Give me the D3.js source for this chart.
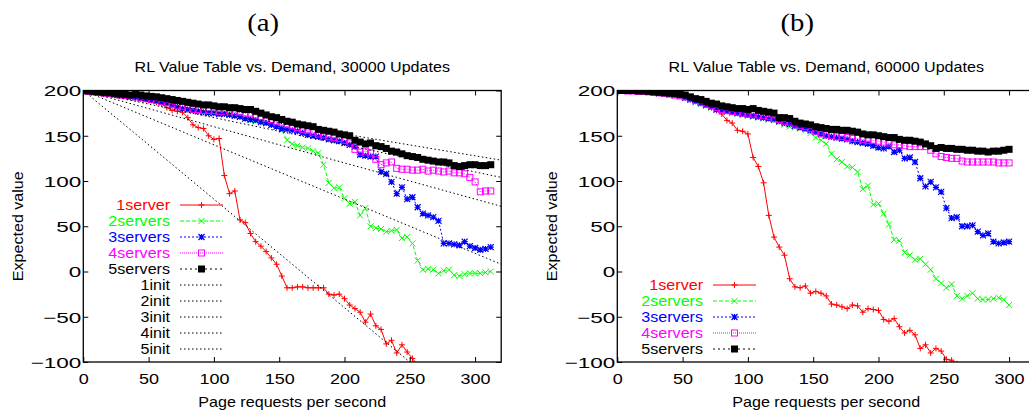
<!DOCTYPE html>
<html><head><meta charset="utf-8">
<script src="https://cdn.jsdelivr.net/npm/d3@7"></script>
<style>body{margin:0;background:#fff}svg{display:block}</style>
</head><body><svg id="c" width="1029" height="410"></svg>
<script>
// ---------- data ----------
const xTicks = [0, 50, 100, 150, 200, 250, 300];
const yTicks = [-100, -50, 0, 50, 100, 150, 200];
const xDomain = [0, 320];
const yDomain = [-100, 200];
const seriesNames = ["1server", "2servers", "3servers", "4servers", "5servers"];
const initNames = ["1init", "2init", "3init", "4init", "5init"];
const titlesTop = ["(a)", "(b)"];
const titlesSub = ["RL Value Table vs. Demand, 30000 Updates", "RL Value Table vs. Demand, 60000 Updates"];
const xLabel = "Page requests per second";
const yLabel = "Expected value";

// sample positions (page requests per second)
const xA = [0,4,8,12,16,20,24,28,32,36,40,44,48,52,56,60,64,68,72,76,80,84,88,92,96,100,104,108,112,116,
  120,124,128,132,136,140,144,148,152,156,160,164,168,172,176,180,184,188,192,196,200,204,208,212,216,
  220,224,228,232,236,240,244,248,252,256,260,264,268,272,276,280,284,288,292,296,300,304,308,312];
const xB = [0,4,8,12,16,20,24,28,32,36,40,44,48,52,56,60,64,68,72,76,80,84,88,92,96,100,104,108,112,116,
  120,124,128,132,136,140,144,148,152,156,160,164,168,172,176,180,184,188,192,196,200,204,208,212,216,
  220,224,228,232,236,240,244,248,252,256,260,264,268,272,276,280,284,288,292,296,300];

// panel (a): 30000 updates
const a1server = [200,199,198,197.5,197,196,195,194.5,194,193,
  192,191,190,189,187,185,181,178,177,176,
  170,162,159,158,150,146,147,106,86,89,
  57,54,42,33,28,22,15,8,-5,-18,
  -18,-17,-17,-18,-18,-18,-18,-25,-26,-25,
  -30,-37,-41,-45,-56,-47,-60,-64,-80,-76,
  -90,-81,-89,-96,-104,-112];
const a2servers = [200,199,198,197.5,197,196,195.5,194.5,194,193,
  192,191,190,189,188,187,185.5,184,182,180,
  179,178,177,176.5,176,176,175.5,175,174,172,
  171,169,167,166,165,164,162,160,156,145,
  141,139,137,136,133,131,118,98,92,93,
  81,75,77,62,70,50,48,47,44,45,
  46,37,38,31,12,2,3,2,-2,1,
  2,-4,-5,-3,-2,-2,-2,-1,0];
const a3servers = [200,199,198,197.5,197,196,195.5,195,194,193,
  192.5,191.5,190.5,189.5,188.5,187,186,184,182,180,
  179,178,177,176,175,175,174,174,173,172,
  171,169,168,167,165,164,162,160,158,157,
  156,155,153,151,150,149,148,146,145,144,
  142,140,138,129,128,127,127,110,108,99,
  86,93,80,82,71,64,62,60,56,31,
  31,30,29,33,28,26,24,25,27];
const a4servers = [200,199,198.5,198,197,196.5,196,195,194.5,194,
  193,192,191,190,189,188,187,185,183,182,
  180,179,179,178,178,178,177,177,177,176,
  176,175,175,173,171,169,168,166,165,163,
  161,159,157,156,154,152,151,149,148,147,
  145,142,135,132,133,131,124,118,120,121,
  114,113,113,112,112,113,111,112,111,110,
  111,109,109,108,104,99,88,89,89];
const a5servers = [200,199.5,199,198.5,198,197.5,197,196,196,195,
  196,195,194,193.5,193,192,191,190,189,188,
  187,186,185,184,184,183,182,182,181,181,
  180,179,179,177,175,173,171,170,168,166,
  165,163,162,161,160,157,156,155,154,152,
  151,150,145,143,141,142,139,138,136,133,
  132,130,128,127,126,124,123,122,121,121,
  120,117,116,117,118,118,117,117,118];
// initial-value reference lines of panel (a): start and end points
const initX0 = [0, 0, 0, 0, 0];
const initY0 = [200, 200, 200, 200, 200];
const initX1 = [250, 320, 320, 320, 320];
const initY1 = [-100, 8, 72, 104, 123];

// panel (b): 60000 updates
const b1server = [200,200,200,199.5,199.5,199,199,198.5,198,197.5,
  197,196,195,194,192,190,187,184,181,178,
  174,167,164,156,155,152,126,116,98,62,
  38,27,18,-8,-17,-18,-16,-24,-22,-24,
  -27,-36,-37,-39,-41,-37,-38,-45,-41,-42,
  -43,-53,-55,-52,-61,-68,-65,-70,-85,-81,
  -90,-85,-88,-97,-98,-102,-110];
const b2servers = [200,200,199.5,199.5,199,199,198.5,198,197,196.5,
  195.5,194.5,193.5,192,190,187,185,183,181,179,
  178,177,176,174,173,172,171,170,169,168,
  167,165,162,160,159,158,156,153,148,145,
  141,130,124,121,116,115,110,91,95,74,
  75,64,52,35,34,21,18,13,14,8,
  2,-8,-13,-18,-14,-27,-30,-27,-24,-30,
  -31,-31,-30,-29,-31,-37];
const b3servers = [200,200,199.5,199.5,199,199,198.5,198,197,196.5,
  196,195,194,192,190,188,186,184,182,179,
  178,177,176,175,174,173,172,171,170,169,
  168,166,164,163,161,159,158,156,154,152,
  150,149,148,147,146,144,143,142,141,139,
  137,136,138,132,134,125,126,121,103,94,
  99,93,88,70,59,60,50,50,51,44,
  40,42,33,31,32,33];
const b4servers = [200,200,199.5,199.5,199,199,198.5,198,197.5,197,
  196,195,194,193,191,189,187,185,183,181,
  179,178,177,176,175,174,174,173,172,171,
  169,168,166,165,163,161,160,158,155,152,
  151,150,149,149,148,147,147,146,145,145,
  144,143,142,140,140,139,138,138,138,138,
  134,130,127,126,125,125,122,121,121,121,
  121,121,121,120,120,120];
const b5servers = [200,200,200,200,199.5,199.5,199,198.5,198,197.5,
  197,196.5,196,195,193,191,190,188,186,185,
  183,182,181,180,180,179,180,178,177,176,
  175,170,170,169,166,164,163,162,160,159,
  158,157,157,156,156,155,154,152,151,151,
  150,149,148,148,146,145,145,144,143,141,
  139,136,137,136,136,135,135,134,134,133,
  133,132,133,133,134,135];

// ---------- styles ----------
const colors = ["#ff0000", "#00ff00", "#0000ff", "#ff00ff", "#000000"];
const dashes = [null, "4,2", "2,2", "1,1", "2,3"];
const markers = ["plus", "cross", "star", "box", "fbox"];
const SANS = "'Liberation Sans', Arial, Helvetica, sans-serif";
const SERIF = "'Liberation Serif', 'Times New Roman', serif";

const svg = d3.select("#c");

function stretchedText(g, str, x, y, opts) {
  const t = g.append("text")
    .attr("transform", `translate(${x},${y}) rotate(${opts.rot || 0}) scale(${opts.sx || 1},1)`)
    .attr("font-family", opts.family || SANS)
    .attr("font-size", opts.size || 14)
    .attr("text-anchor", opts.anchor || "middle")
    .attr("fill", opts.fill || "#000")
    .text(str);
  if (opts.dy) t.attr("dy", opts.dy);
  return t;
}

function drawMarker(g, type, color, px, py) {
  const s = 3;
  if (type === "plus") {
    g.append("path").attr("d", `M${px - s},${py}H${px + s}M${px},${py - s}V${py + s}`)
      .attr("stroke", color).attr("stroke-width", 1).attr("fill", "none");
  } else if (type === "cross") {
    g.append("path").attr("d", `M${px - s},${py - s}L${px + s},${py + s}M${px - s},${py + s}L${px + s},${py - s}`)
      .attr("stroke", color).attr("stroke-width", 1).attr("fill", "none");
  } else if (type === "star") {
    g.append("path").attr("d", `M${px - s},${py}H${px + s}M${px},${py - s}V${py + s}M${px - s},${py - s}L${px + s},${py + s}M${px - s},${py + s}L${px + s},${py - s}`)
      .attr("stroke", color).attr("stroke-width", 1.2).attr("fill", "none");
  } else if (type === "box") {
    g.append("rect").attr("x", px - s).attr("y", py - s).attr("width", 2 * s).attr("height", 2 * s)
      .attr("stroke", color).attr("stroke-width", 1).attr("fill", "none");
  } else {
    g.append("rect").attr("x", px - 3.5).attr("y", py - 3.5).attr("width", 7).attr("height", 7)
      .attr("fill", color);
  }
}

function panel(idx, left, series, xs, withInit, legendRight, legendY0) {
  const x = d3.scaleLinear().domain(xDomain).range([left, left + 417.9]);
  const y = d3.scaleLinear().domain(yDomain).range([362, 90.5]);
  const [x0, x1] = x.range();
  const [yb, yt] = y.range();
  const g = svg.append("g");
  const cid = "clip" + idx;
  g.append("clipPath").attr("id", cid).append("rect")
    .attr("x", x0).attr("y", yt).attr("width", x1 - x0).attr("height", yb - yt);

  const plot = g.append("g").attr("clip-path", `url(#${cid})`);
  const line = d3.line().x(d => x(d[0])).y(d => y(d[1]));

  series.forEach((vals, i) => {
    const pts = vals.map((v, k) => [xs[k], v]);
    const p = plot.append("path").attr("d", line(pts)).attr("fill", "none")
      .attr("stroke", colors[i]).attr("stroke-width", 1);
    if (dashes[i]) p.attr("stroke-dasharray", dashes[i]);
    const mg = plot.append("g");
    pts.forEach(d => {
      if (d[1] >= yDomain[0] - 2) drawMarker(mg, markers[i], colors[i], x(d[0]), y(d[1]));
    });
  });

  if (withInit) {
    initNames.forEach((n, i) => {
      plot.append("path")
        .attr("d", line([[initX0[i], initY0[i]], [initX1[i], initY1[i]]]))
        .attr("fill", "none").attr("stroke", "#000").attr("stroke-width", 1)
        .attr("stroke-dasharray", "1.5,2.5");
    });
  }

  // axes with inward ticks, mirrored
  const tick = 5;
  const axB = g.append("g").attr("transform", `translate(0,${yb})`)
    .call(d3.axisBottom(x).tickValues(xTicks).tickSizeInner(-tick).tickSizeOuter(0).tickPadding(0));
  axB.selectAll("text").attr("y", 22).attr("font-size", 15).attr("font-family", SANS)
    .attr("fill", "#000").attr("transform", "scale(1.2,1)").attr("dy", null);
  const axT = g.append("g").attr("transform", `translate(0,${yt})`)
    .call(d3.axisTop(x).tickValues(xTicks).tickSizeInner(-tick).tickSizeOuter(0).tickFormat(""));
  const axL = g.append("g").attr("transform", `translate(${x0},0)`)
    .call(d3.axisLeft(y).tickValues(yTicks).tickSizeInner(-tick).tickSizeOuter(0).tickPadding(0));
  axL.selectAll("text").attr("x", -2 / 1.5).attr("dy", "0.36em").attr("font-size", 15)
    .attr("font-family", SANS).attr("fill", "#000").attr("transform", "scale(1.5,1)");
  const axR = g.append("g").attr("transform", `translate(${x1},0)`)
    .call(d3.axisRight(y).tickValues(yTicks).tickSizeInner(-tick).tickSizeOuter(0).tickFormat(""));
  [axB, axT, axL, axR].forEach(a => {
    a.select(".domain").remove();
    a.selectAll(".tick line").attr("stroke", "#000").attr("stroke-width", 1);
  });
  // border
  g.append("rect").attr("x", x0).attr("y", yt).attr("width", x1 - x0).attr("height", yb - yt)
    .attr("fill", "none").attr("stroke", "#000").attr("stroke-width", 1.3);

  // texts
  const cx = (x0 + x1) / 2;
  stretchedText(g, titlesTop[idx], cx - 29, 31, { family: SERIF, size: 25, sx: 1.15 });
  stretchedText(g, titlesSub[idx], cx, 72, { size: 14, sx: 1.15 });
  stretchedText(g, xLabel, cx, 407, { size: 14, sx: 1.15 });
  stretchedText(g, yLabel, left - 60, (yt + yb) / 2, { size: 14, sx: 1.15, rot: -90 });

  // legend
  const rows = withInit ? seriesNames.concat(initNames) : seriesNames;
  rows.forEach((n, i) => {
    const ly = legendY0 + i * 16;
    const isSeries = i < seriesNames.length;
    const col = isSeries ? colors[i] : "#000";
    stretchedText(g, n, legendRight, ly, { size: 14, sx: 1.15, anchor: "end", fill: col, dy: "0.36em" });
    const lx0 = legendRight + 10, lx1 = legendRight + 53;
    const ln = g.append("line").attr("x1", lx0).attr("x2", lx1).attr("y1", ly).attr("y2", ly)
      .attr("stroke", col).attr("stroke-width", 1);
    if (isSeries) {
      if (dashes[i]) ln.attr("stroke-dasharray", dashes[i]);
      drawMarker(g, markers[i], col, (lx0 + lx1) / 2, ly);
    } else {
      ln.attr("stroke-dasharray", "1.5,2.5");
    }
  });
}

panel(0, 83.3, [a1server, a2servers, a3servers, a4servers, a5servers], xA, true, 170, 205);
panel(1, 617.3, [b1server, b2servers, b3servers, b4servers, b5servers], xB, false, 703, 285);
</script></body></html>
